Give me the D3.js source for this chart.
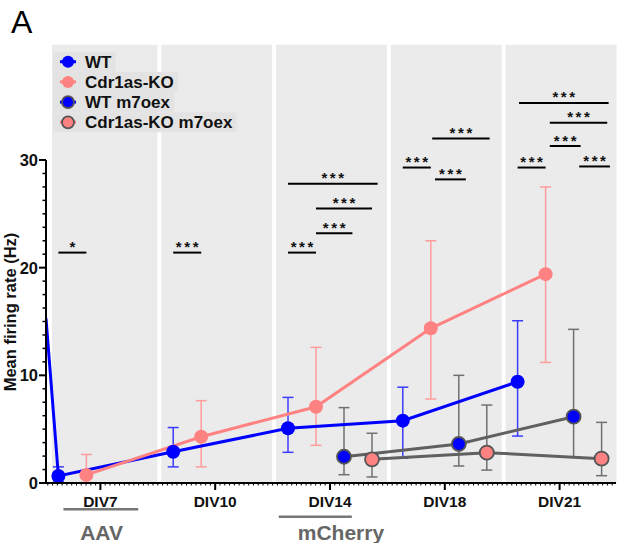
<!DOCTYPE html>
<html><head><meta charset="utf-8">
<script src="https://cdn.jsdelivr.net/npm/d3@7"></script>
<style>body{margin:0;background:#fff}svg{display:block;font-family:"Liberation Sans",Arial,sans-serif}</style>
</head><body>
<svg id="c" width="619" height="543"></svg>
<script>
const groups = ["DIV7","DIV10","DIV14","DIV18","DIV21"];
const seriesNames = ["WT","Cdr1as-KO","WT m7oex","Cdr1as-KO m7oex"];
const wtMean  = [0.65, 2.9, 5.08, 5.79, 9.4];
const wtUpper = [1.5, 5.15, 7.95, 8.9, 15.07];
const wtLower = [0.1, 1.5, 2.85, 2.3, 4.36];
const koMean  = [0.75, 4.3, 7.08, 14.37, 19.4];
const koUpper = [2.65, 7.65, 12.6, 22.5, 27.5];
const koLower = [0.05, 1.5, 3.5, 7.8, 11.2];
const wtm7Mean  = [null, null, 2.44, 3.62, 6.16];
const wtm7Upper = [null, null, 7.0, 10.0, 14.27];
const wtm7Lower = [null, null, 0.77, 1.58, 2.4];
const kom7Mean  = [null, null, 2.2, 2.82, 2.26];
const kom7Upper = [null, null, 4.62, 7.24, 5.63];
const kom7Lower = [null, null, 0.56, 1.2, 0.68];
const wtLeadIn = 15.3;
const yTicks = [0, 10, 20, 30];
// comparisons: group, from series pos, to series pos, height (Hz), label
const comparisons = [
  ["DIV7", 0, 1, 21.4, "*"],
  ["DIV10", 0, 1, 21.4, "***"],
  ["DIV14", 0, 1, 21.4, "***"],
  ["DIV14", 1, 2.3, 23.2, "***"],
  ["DIV14", 1, 3, 25.5, "***"],
  ["DIV14", 0, 3.2, 27.8, "***"],
  ["DIV18", 0, 1, 29.3, "***"],
  ["DIV18", 1.15, 2.25, 28.2, "***"],
  ["DIV18", 1.05, 3.1, 32.0, "***"],
  ["DIV21", 0, 1, 29.3, "***"],
  ["DIV21", 1.15, 2.25, 31.3, "***"],
  ["DIV21", 2.2, 3.3, 29.4, "***"],
  ["DIV21", 1.15, 3.2, 33.45, "***"],
  ["DIV21", 0.05, 3.25, 35.3, "***"]
];
// treatment label, group, label pos, bar from, bar to (series positions)
const treatments = [["AAV", "DIV7", 1.54, 0.18, 2.85], ["mCherry", "DIV14", 1.89, -0.33, 2.28]];

const series = [
  {name: seriesNames[0], mean: wtMean, up: wtUpper, lo: wtLower, fill: "#0000ff", stroke: null, line: "#0000ff", err: "#3b3bff"},
  {name: seriesNames[1], mean: koMean, up: koUpper, lo: koLower, fill: "#ff8282", stroke: null, line: "#ff8282", err: "#ff9c9c"},
  {name: seriesNames[2], mean: wtm7Mean, up: wtm7Upper, lo: wtm7Lower, fill: "#0000ff", stroke: "#555", line: "#606060", err: "#707070"},
  {name: seriesNames[3], mean: kom7Mean, up: kom7Upper, lo: kom7Lower, fill: "#ff8282", stroke: "#555", line: "#606060", err: "#707070"}
];

const svg = d3.select("#c");
const left = 46, right = 616;
const y = d3.scaleLinear().domain([0, 30]).range([483, 160]);
const xg = d3.scaleBand().domain(groups).range([43, 617]).padding(0);
const sub = d3.scaleLinear().domain([-0.5, 3.5]).range([-56, 56]);
const cx = (g, i) => xg(g) + xg.bandwidth() / 2 + sub(i);

// background bands
const bandTop = y(40.7);
svg.append("g").selectAll("rect").data(groups).join("rect")
  .attr("x", g => Math.max(cx(g, -0.5) + 2, left + 6))
  .attr("width", g => cx(g, 3.5) + 1 - Math.max(cx(g, -0.5) + 2, left + 6))
  .attr("y", bandTop).attr("height", y(0) - bandTop)
  .attr("fill", "#ebebeb");

// legend
const lg = svg.append("g");
series.forEach((s, i) => {
  const yy = 61.7 + i * 20.2;
  const t = lg.append("text").attr("x", 85).attr("y", yy + 6).text(s.name)
    .attr("font-size", 17).attr("font-weight", "bold").attr("fill", "#111");
  const w = t.node().getComputedTextLength();
  lg.insert("rect", "text").attr("x", 53).attr("y", yy - 10).attr("width", 85 + w + 4 - 53).attr("height", 20).attr("fill", "#e3e3e3");
  lg.append("line").attr("x1", 60).attr("x2", 76).attr("y1", yy).attr("y2", yy).attr("stroke", s.line === "#606060" ? s.fill : s.line).attr("stroke-width", 3);
  lg.append("circle").attr("cx", 68).attr("cy", yy).attr("r", 6).attr("fill", s.fill)
    .attr("stroke", s.stroke || "none").attr("stroke-width", 1.8);
});
lg.selectAll("line").raise(); lg.selectAll("circle").raise();

// clip for plot
svg.append("clipPath").attr("id", "pc").append("rect").attr("x", left).attr("y", 0).attr("width", right - left + 5).attr("height", 490);
const plot = svg.append("g").attr("clip-path", "url(#pc)");

// error bars
series.forEach((s, i) => {
  groups.forEach((g, k) => {
    if (s.mean[k] == null) return;
    const x = cx(g, i);
    const eg = plot.append("g").attr("stroke", s.err).attr("stroke-width", 1.5);
    eg.append("line").attr("x1", x).attr("x2", x).attr("y1", y(s.up[k])).attr("y2", y(s.lo[k]));
    [s.up[k], s.lo[k]].forEach(v => eg.append("line").attr("x1", x - 5.5).attr("x2", x + 5.5).attr("y1", y(v)).attr("y2", y(v)));
  });
});

// lines
const lineGen = d3.line().defined(d => d[1] != null).x(d => d[0]).y(d => y(d[1]));
series.forEach((s, i) => {
  const pts = groups.map((g, k) => [cx(g, i), s.mean[k]]);
  if (i === 0) pts.unshift([left, wtLeadIn]);
  plot.append("path").attr("d", lineGen(pts)).attr("fill", "none").attr("stroke", s.line).attr("stroke-width", 3);
});

// points
series.forEach((s, i) => {
  groups.forEach((g, k) => {
    if (s.mean[k] == null) return;
    plot.append("circle").attr("cx", cx(g, i)).attr("cy", y(s.mean[k])).attr("r", 7)
      .attr("fill", s.fill).attr("stroke", s.stroke || "none").attr("stroke-width", 1.8);
  });
});

// comparisons
comparisons.forEach(([g, a, b, v, lab]) => {
  const x1 = cx(g, a), x2 = cx(g, b);
  svg.append("line").attr("x1", x1).attr("x2", x2).attr("y1", y(v)).attr("y2", y(v)).attr("stroke", "#000").attr("stroke-width", 2);
  svg.append("text").attr("x", (x1 + x2) / 2 + (lab.length > 1 ? 1.3 : 0)).attr("y", y(v) - 0.5).attr("text-anchor", "middle")
    .attr("font-size", 15).attr("font-weight", "bold").attr("letter-spacing", lab.length > 1 ? 2.6 : 0).attr("fill", "#111").text(lab);
});

// y axis
const ya = svg.append("g");
ya.append("line").attr("x1", left).attr("x2", left).attr("y1", y(30)).attr("y2", y(0)).attr("stroke", "#000").attr("stroke-width", 2);
d3.range(0, 30.01, 1.25).forEach(v => {
  const major = yTicks.includes(v);
  ya.append("line").attr("x1", left - (major ? 7 : 3.5)).attr("x2", left).attr("y1", y(v)).attr("y2", y(v)).attr("stroke", "#000").attr("stroke-width", major ? 2 : 1.5);
});
yTicks.forEach(v => ya.append("text").attr("x", 38).attr("y", y(v) + 6).attr("text-anchor", "end")
  .attr("font-size", 16.5).attr("font-weight", "bold").attr("fill", "#111").text(v));
svg.append("text").attr("transform", "translate(15.5,312) rotate(-90)").attr("text-anchor", "middle")
  .attr("font-size", 16.5).attr("font-weight", "bold").attr("fill", "#111").text("Mean firing rate (Hz)");

// x axis
const xa = svg.append("g");
xa.append("line").attr("x1", left - 1).attr("x2", right).attr("y1", y(0)).attr("y2", y(0)).attr("stroke", "#000").attr("stroke-width", 2);
const step = xg.step() / 24;
for (let xx = xg(groups[0]) + xg.bandwidth() / 2; xx <= right; xx += step) {
  xa.append("line").attr("x1", xx).attr("x2", xx).attr("y1", y(0)).attr("y2", y(0) + 2.5).attr("stroke", "#000").attr("stroke-width", 1);
}
for (let xx = xg(groups[0]) + xg.bandwidth() / 2 - step; xx >= left; xx -= step) {
  xa.append("line").attr("x1", xx).attr("x2", xx).attr("y1", y(0)).attr("y2", y(0) + 2.5).attr("stroke", "#000").attr("stroke-width", 1);
}
groups.forEach(g => {
  const x = xg(g) + xg.bandwidth() / 2;
  xa.append("line").attr("x1", x).attr("x2", x).attr("y1", y(0)).attr("y2", y(0) + 7).attr("stroke", "#000").attr("stroke-width", 2);
  xa.append("text").attr("x", x).attr("y", 507).attr("text-anchor", "middle")
    .attr("font-size", 15.5).attr("font-weight", "bold").attr("fill", "#111").text(g);
});

// treatment annotations
treatments.forEach(([lab, g, c, a, b], i) => {
  const ly = i === 0 ? 509.3 : 516.7;
  svg.append("line").attr("x1", cx(g, a)).attr("x2", cx(g, b)).attr("y1", ly).attr("y2", ly).attr("stroke", "#777").attr("stroke-width", 2.5);
  svg.append("text").attr("x", cx(g, c)).attr("y", 539.5).attr("text-anchor", "middle")
    .attr("font-size", 21).attr("font-weight", "bold").attr("fill", "#666").text(lab);
});

// panel letter
svg.append("text").attr("x", 11).attr("y", 33.3).attr("font-size", 32).attr("fill", "#000").text("A");
</script>
</body></html>
